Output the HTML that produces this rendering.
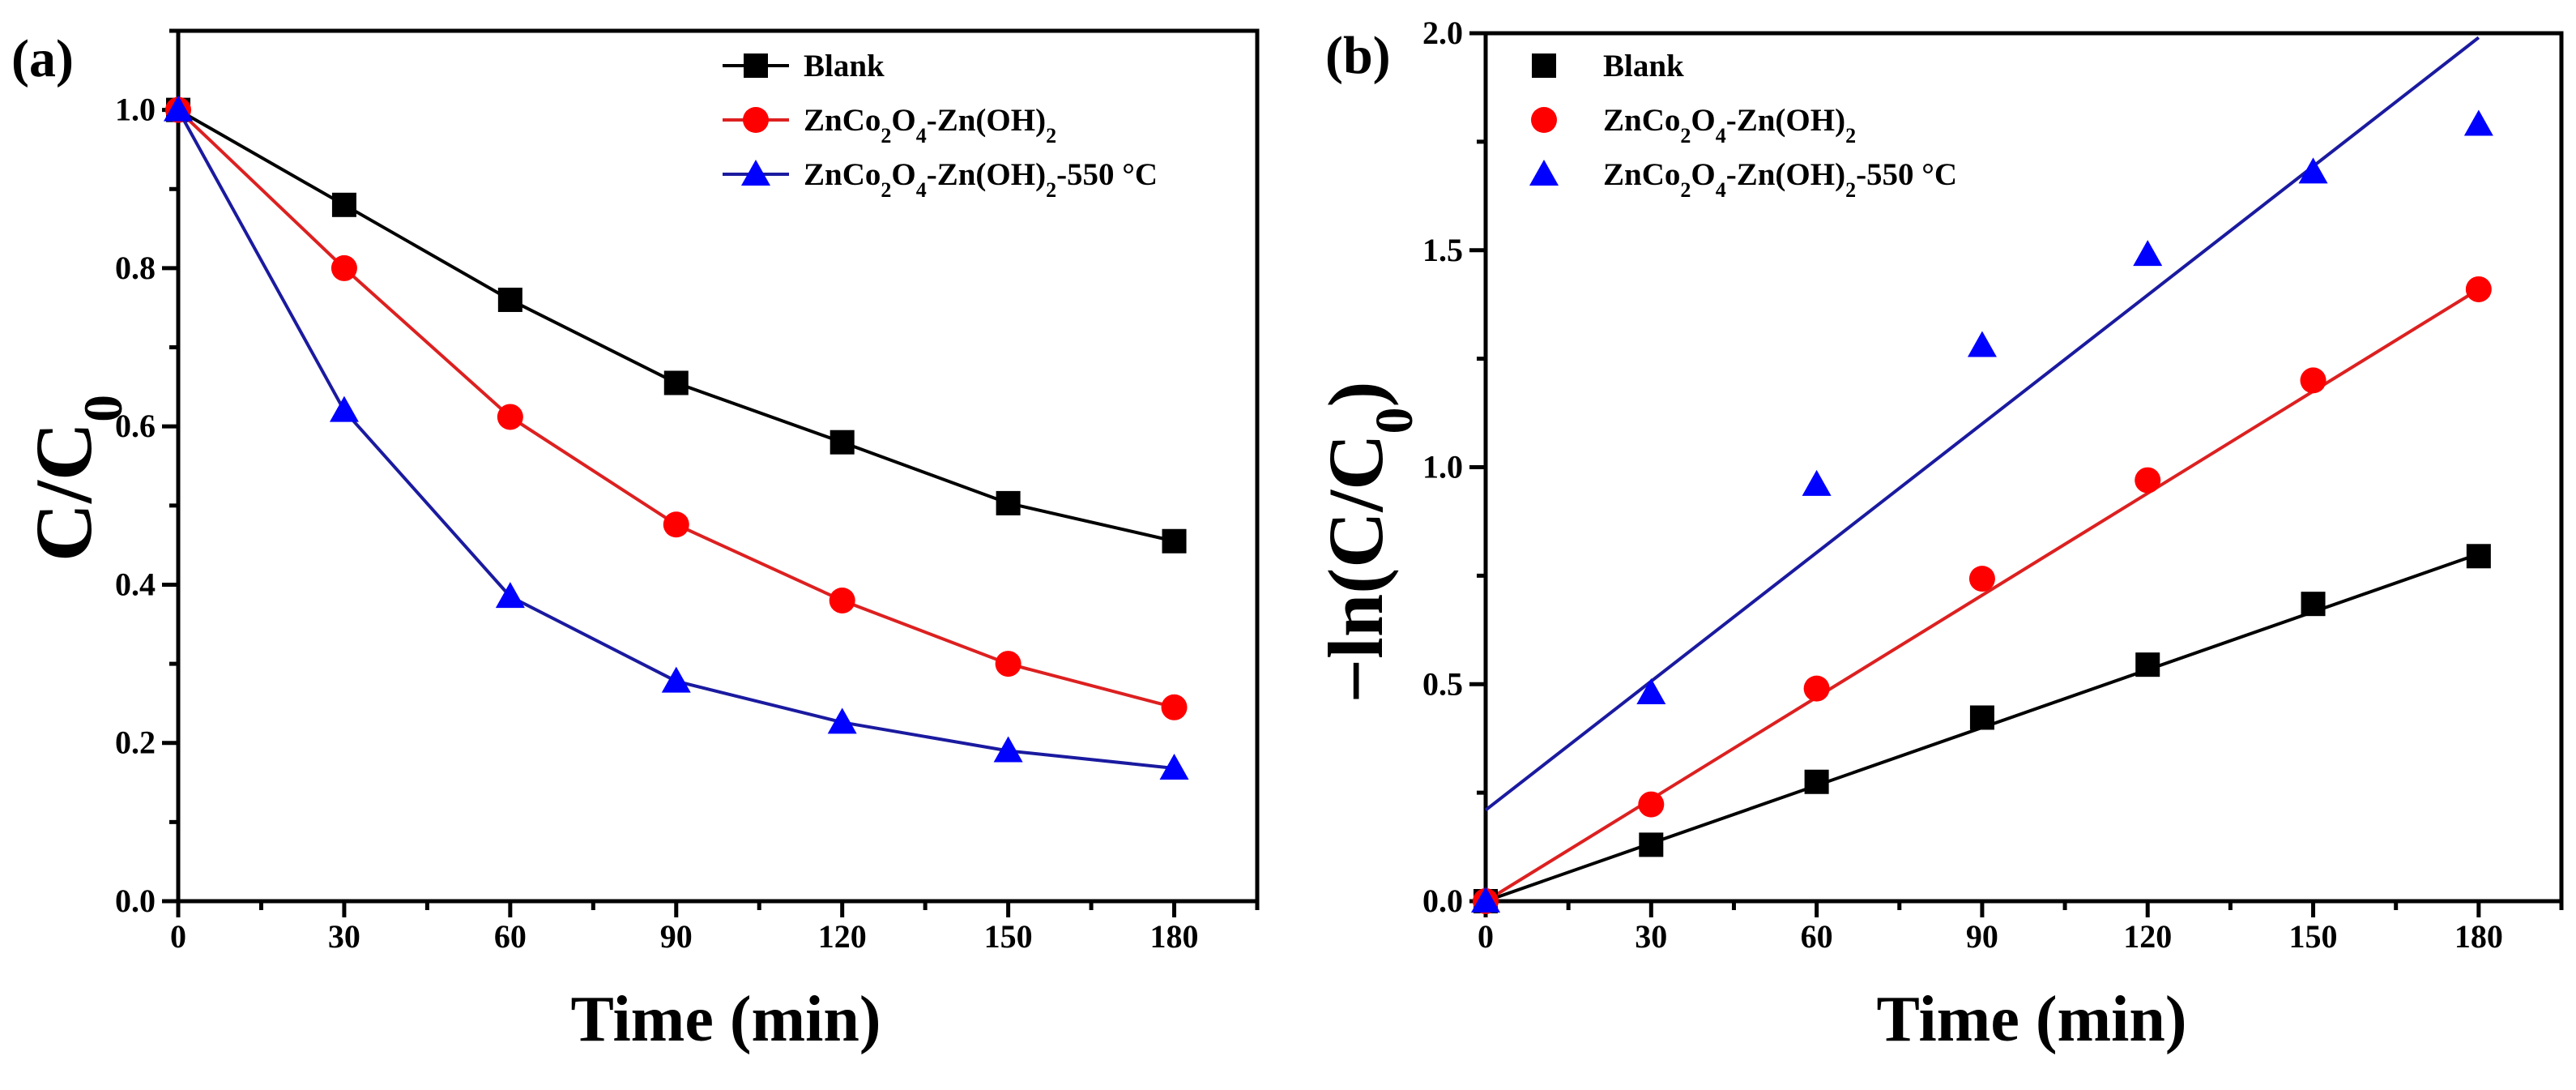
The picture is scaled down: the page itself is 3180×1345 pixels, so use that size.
<!DOCTYPE html>
<html><head><meta charset="utf-8"><style>
html,body{margin:0;padding:0;background:#fff;}
svg{display:block;}
text{font-family:"Liberation Serif",serif;font-weight:bold;fill:#000;}
</style></head><body>
<svg id="fig" width="3180" height="1345" viewBox="0 0 3180 1345" xmlns="http://www.w3.org/2000/svg"></svg>
<script>
const times = [0, 30, 60, 90, 120, 150, 180];
const aBlank = [1.0, 0.88, 0.76, 0.655, 0.58, 0.503, 0.455];
const aRed = [1.0, 0.80, 0.612, 0.476, 0.38, 0.30, 0.245];
const aBlue = [1.0, 0.62, 0.385, 0.278, 0.226, 0.19, 0.168];
const bBlank = [0, 0.13, 0.275, 0.423, 0.545, 0.685, 0.795];
const bRed = [0, 0.223, 0.49, 0.743, 0.97, 1.20, 1.41];
const bBlue = [0, 0.48, 0.96, 1.28, 1.49, 1.68, 1.79];
const fitBlank = [0, 0.80];
const fitRed = [0, 1.41];
const fitBlue = [0.21, 1.99];
const fitX = [0, 180];
const xTicks = [0, 30, 60, 90, 120, 150, 180];
const aYTicks = [0, 0.2, 0.4, 0.6, 0.8, 1.0];
const bYTicks = [0, 0.5, 1.0, 1.5, 2.0];
const legendLabels = ["Blank", "ZnCo<tspan baseline-shift='sub' font-size='26'>2</tspan>O<tspan baseline-shift='sub' font-size='26'>4</tspan>-Zn(OH)<tspan baseline-shift='sub' font-size='26'>2</tspan>", "ZnCo<tspan baseline-shift='sub' font-size='26'>2</tspan>O<tspan baseline-shift='sub' font-size='26'>4</tspan>-Zn(OH)<tspan baseline-shift='sub' font-size='26'>2</tspan>-550 °C"];

const NS = "http://www.w3.org/2000/svg";
const svg = document.getElementById('fig');
function mk(tag, attrs, parent){
  const e = document.createElementNS(NS, tag);
  for (const k in attrs) e.setAttribute(k, attrs[k]);
  (parent||svg).appendChild(e);
  return e;
}
const colors = ["#000000", "#ff0000", "#0000ff"];
const lineColors = ["#000000", "#dd2020", "#1a1aa0"];

function marker(g, kind, cx, cy, color){
  let e;
  if (kind === 0) e = mk('rect', {x: cx-15, y: cy-15, width: 30, height: 30, fill: color}, g);
  else if (kind === 1) e = mk('circle', {cx: cx, cy: cy, r: 16, fill: color}, g);
  else e = mk('polygon', {points: `${cx},${cy-18} ${cx+18},${cy+14} ${cx-18},${cy+14}`, fill: color}, g);
  
  
  return e;
}

function panel(opt){
  const g = mk('g', {});
  
  
  const X = v => opt.L + (v - 0) / (195 - 0) * (opt.R - opt.L) ;
  const Y = v => opt.B - v / opt.ymax * (opt.B - opt.T);
  const tg = mk('g', {stroke: '#000', 'stroke-width': 5}, g);
  
  
  for (let v = 0; v <= 195; v += 15) {
    const major = v % 30 === 0;
    mk('line', {x1: X(v), x2: X(v), y1: opt.B, y2: opt.B + (major ? 20 : 11)}, tg);
  }
  const yg = mk('g', {stroke: '#000', 'stroke-width': 5}, g);
  
  
  for (let i = 0; i <= Math.round(opt.ymax / opt.yminor); i++) {
    const v = i * opt.yminor;
    const major = Math.abs(v / opt.ymajor - Math.round(v / opt.ymajor)) < 1e-6;
    mk('line', {x1: opt.L, x2: opt.L - (major ? 20 : 11), y1: Y(v), y2: Y(v)}, yg);
  }
  const fr = mk('rect', {x: opt.L, y: opt.T, width: opt.R - opt.L, height: opt.B - opt.T, fill: 'none', stroke: '#000', 'stroke-width': 5}, g);
  
  
  xTicks.forEach(v => {
    const t = mk('text', {x: X(v), y: opt.B + 57, 'text-anchor': 'middle', 'font-size': 40}, g);
    t.textContent = v;
    
    
  });
  opt.yticks.forEach(v => {
    const t = mk('text', {x: opt.L - 28, y: Y(v) + 13, 'text-anchor': 'end', 'font-size': 40}, g);
    t.textContent = v.toFixed(1);
    
    
  });
  const xt = mk('text', {x: (opt.L + opt.R) / 2 + 10, y: 1284, 'text-anchor': 'middle', 'font-size': 80}, g);
  xt.textContent = 'Time (min)';
  
  
  const yt = mk('text', {x: 0, y: 0, 'text-anchor': 'middle', 'font-size': opt.ytsize, transform: `translate(${opt.ytx},${opt.yty}) rotate(-90)`}, g);
  yt.innerHTML = opt.ytitle;
  
  
  const pl = mk('text', {x: opt.plx, y: opt.ply, 'font-size': 66}, g);
  pl.textContent = opt.plabel;
  
  
  if (opt.fits) {
    opt.fits.forEach((f, k) => {
      const ln = mk('line', {x1: X(fitX[0]), y1: Y(f[0]), x2: X(fitX[1]), y2: Y(f[1]), stroke: lineColors[k], 'stroke-width': 4}, g);
      
      
    });
  }
  opt.series.forEach((s, k) => {
    const sg = mk('g', {}, g);
    
    
    if (opt.connect) {
      const p = mk('polyline', {points: s.map((v, i) => X(times[i]) + ',' + Y(v)).join(' '), fill: 'none', stroke: lineColors[k], 'stroke-width': 4}, sg);
      
      
    }
    s.forEach((v, i) => marker(sg, k, X(times[i]), Y(v), colors[k]));
  });
  const lg = mk('g', {}, g);
  
  
  legendLabels.forEach((lab, k) => {
    const y = 81 + k * 67;
    const eg = mk('g', {}, lg);
    
    
    if (opt.connect) mk('line', {x1: opt.legX - 41, x2: opt.legX + 41, y1: y, y2: y, stroke: lineColors[k], 'stroke-width': 4}, eg);
    marker(eg, k, opt.legX, y, colors[k]);
    const t = mk('text', {x: opt.legTx, y: y + 13, 'font-size': 39}, eg);
    t.innerHTML = lab;
  });
}

panel({name: 'panel-a', L: 220, R: 1552, T: 38, B: 1112, ymax: 1.1, ymajor: 0.2, yminor: 0.1, yticks: aYTicks,
  series: [aBlank, aRed, aBlue], connect: true, ytitle: "C/C<tspan baseline-shift='sub' font-size='68'>0</tspan>",
  ytsize: 100, ytx: 112, yty: 590, plabel: '(a)', plx: 14, ply: 94, legX: 933, legTx: 992});
panel({name: 'panel-b', L: 1834, R: 3162, T: 41, B: 1112, ymax: 2.0, ymajor: 0.5, yminor: 0.25, yticks: bYTicks,
  series: [bBlank, bRed, bBlue], connect: false, fits: [fitBlank, fitRed, fitBlue],
  ytitle: "−ln(C/C<tspan baseline-shift='sub' font-size='66'>0</tspan>)",
  ytsize: 96, ytx: 1706, yty: 669, plabel: '(b)', plx: 1636, ply: 90, legX: 1906, legTx: 1979});
</script>
</body></html>
